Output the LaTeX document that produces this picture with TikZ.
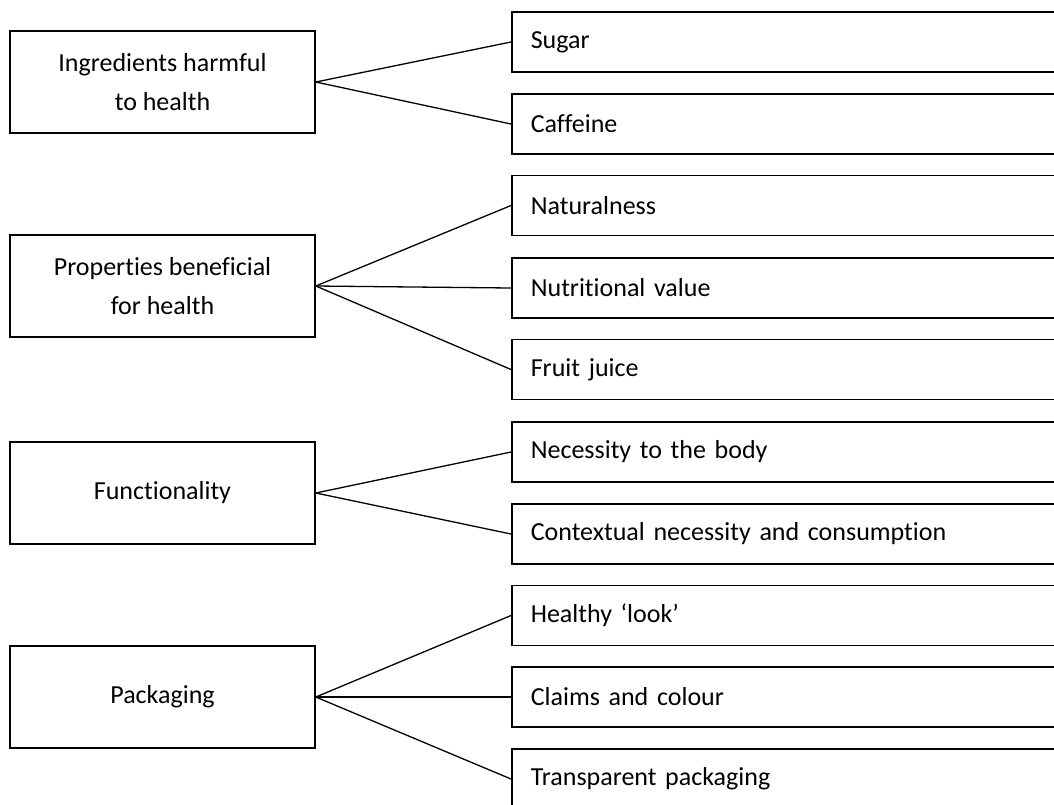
\documentclass[tikz,border=0pt]{standalone}
\usepackage{fontspec}
\setmainfont{Carlito}[Ligatures=NoCommon]
\begin{document}
\begin{tikzpicture}[x=1pt,y=-1pt,
  catbox/.style={draw,line width=1.6pt,minimum width=305pt,minimum height=102pt,align=center,inner sep=0pt,
    font=\fontsize{26}{39}\selectfont},
  itembox/.style={draw,line width=1.6pt,anchor=west,minimum height=60pt,text width=540pt,inner xsep=19pt,inner ysep=0pt,align=left,
    font=\fontsize{26}{32}\selectfont},
  link/.style={line width=1.3pt}]
\clip (0,0) rectangle (1054,804);
\useasboundingbox (0,0) rectangle (1054,804);
% categories
\node[catbox] (c1) at (162.5,82) {Ingredients harmful\\to health};
\node[catbox] (c2) at (162.5,286) {Properties beneficial\\for health};
\node[catbox] (c3) at (162.5,493) {Functionality};
\node[catbox] (c4) at (162.5,697) {Packaging};
% items
\node[itembox] (s1) at (511,42) {Sugar};
\node[itembox] (s2) at (511,124) {Caffeine};
\node[itembox] (s3) at (511,205.5) {Naturalness};
\node[itembox] (s4) at (511,288) {Nutritional value};
\node[itembox] (s5) at (511,369.5) {Fruit juice};
\node[itembox] (s6) at (511,452) {Necessity to the body};
\node[itembox] (s7) at (511,534) {Contextual necessity and consumption};
\node[itembox] (s8) at (511,615.5) {Healthy ‘look’};
\node[itembox] (s9) at (511,697) {Claims and colour};
\node[itembox] (s10) at (511,779) {Transparent packaging};
% links
\draw[link] (c1.east) -- (s1.west);
\draw[link] (c1.east) -- (s2.west);
\draw[link] (c2.east) -- (s3.west);
\draw[link] (c2.east) -- (s4.west);
\draw[link] (c2.east) -- (s5.west);
\draw[link] (c3.east) -- (s6.west);
\draw[link] (c3.east) -- (s7.west);
\draw[link] (c4.east) -- (s8.west);
\draw[link] (c4.east) -- (s9.west);
\draw[link] (c4.east) -- (s10.west);
\end{tikzpicture}
\end{document}
